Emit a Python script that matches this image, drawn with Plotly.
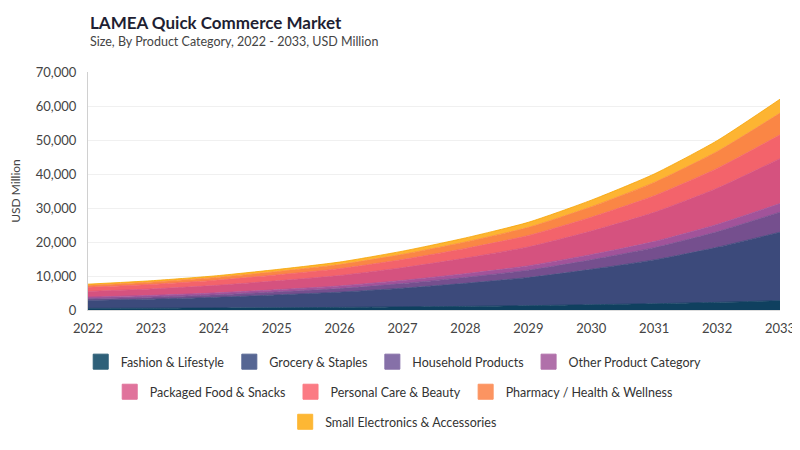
import plotly.graph_objects as go

years = [2022, 2023, 2024, 2025, 2026, 2027, 2028, 2029, 2030, 2031, 2032, 2033]

fashion = [471, 516, 580, 666, 761, 900, 1060, 1264, 1550, 1840, 2241, 2728]
grocery = [2356, 2675, 3130, 3760, 4470, 5501, 6784, 8282, 10401, 12880, 16185, 20150]
household = [494, 585, 710, 869, 1072, 1367, 1738, 2167, 2810, 3600, 4582, 5890]
other = [471, 516, 580, 666, 761, 917, 1081, 1264, 1518, 1800, 2141, 2542]
packaged = [1672, 1892, 2190, 2606, 3074, 3754, 4600, 5573, 6945, 8600, 10657, 13206]
personal = [1216, 1342, 1520, 1749, 2016, 2405, 2841, 3354, 4070, 4880, 5827, 7006]
pharmacy = [578, 671, 810, 988, 1213, 1522, 1908, 2399, 3069, 3920, 4980, 6386]
electronics = [342, 404, 480, 595, 733, 934, 1187, 1496, 1938, 2480, 3187, 4092]

names = ['Fashion & Lifestyle', 'Grocery & Staples', 'Household Products', 'Other Product Category',
         'Packaged Food & Snacks', 'Personal Care & Beauty', 'Pharmacy / Health & Wellness',
         'Small Electronics & Accessories']
series = [fashion, grocery, household, other, packaged, personal, pharmacy, electronics]
fills = ['#0f405f', '#3c4a7b', '#754f8e', '#a1539a', '#d5527f', '#f3636b', '#fa8645', '#fdb432']
edges = ['#0f405f', '#3c4a7b', '#754f8e', '#a1539a', '#d5527f', '#f3636b', '#fa8645', '#f5a300']
legend_cols = ['#2e6079', '#566693', '#8670a8', '#b070aa', '#e0739c', '#fb7b84', '#fc9461', '#fdb734']
rows = ['legend', 'legend', 'legend', 'legend', 'legend2', 'legend2', 'legend2', 'legend3']

fig = go.Figure()
for name, vals, col, edge in zip(names, series, fills, edges):
    fig.add_trace(go.Scatter(x=years, y=vals, name=name, stackgroup='one', mode='lines',
                             line=dict(color=edge, width=0.8, shape='spline', smoothing=0.6),
                             fillcolor=col, showlegend=False, hoverinfo='x+y+name'))

# square legend markers
for name, col, lg in zip(names, legend_cols, rows):
    fig.add_trace(go.Scatter(x=[None], y=[None], name=name, mode='markers', legend=lg,
                             marker=dict(symbol='square', size=15, color=col,
                                         line=dict(color=col, width=1))))

font = 'Lato, sans-serif'
leg = dict(orientation='h', xanchor='center', x=0.487, xref='container', yref='container',
           yanchor='middle', traceorder='normal',
           font=dict(family=font, size=12.5, color='#333333'), itemwidth=30, bgcolor='rgba(0,0,0,0)')

# page has an 8px body margin, so the figure is sized 792x442
fig.update_layout(
    width=792, height=442,
    margin=dict(l=80, r=20, t=64, b=140, autoexpand=False),
    plot_bgcolor='white', paper_bgcolor='white',
    font=dict(family=font, size=13, color='#555555'),
    legend=dict(leg, y=0.199),
    legend2=dict(leg, y=0.131),
    legend3=dict(leg, y=0.063),
    xaxis=dict(range=[2022, 2033], tickvals=years, showgrid=False, zeroline=False, automargin=False,
               showline=True, linecolor='#dddddd', ticks='', ticklabelstandoff=6,
               tickfont=dict(size=13, color='#444444')),
    yaxis=dict(range=[0, 70000], dtick=10000, tickformat=',', showgrid=True, gridcolor='#f0f0f0',
               zeroline=False, showline=True, linecolor='#d0d0d0', ticks='', automargin=False,
               ticklabelstandoff=8, tickfont=dict(size=13, color='#444444'),
               title=dict(text='USD Million', font=dict(size=12, color='#444444'), standoff=14)),
    annotations=[
        dict(text='<b>LAMEA Quick Commerce Market</b>', xref='paper', yref='paper', x=0, y=1.21,
             xanchor='left', yanchor='middle', showarrow=False,
             font=dict(family=font, size=17, color='#1f1f33')),
        dict(text='Size, By Product Category, 2022 - 2033, USD Million', xref='paper', yref='paper',
             x=0, y=1.13, xanchor='left', yanchor='middle', showarrow=False,
             font=dict(family=font, size=12.5, color='#444444')),
    ],
)

fig.write_html('out.html')
